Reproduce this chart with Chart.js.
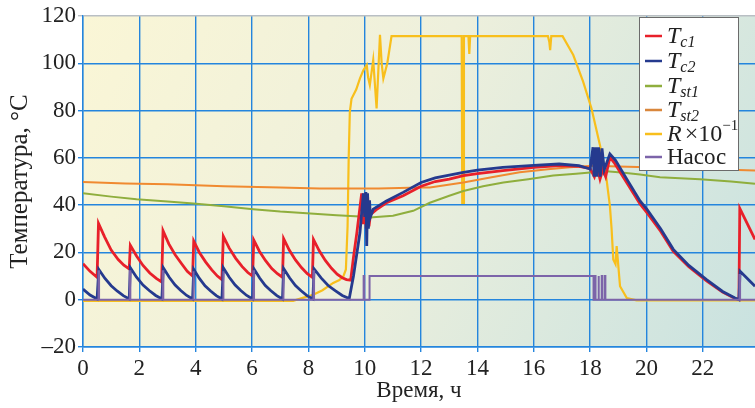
<!DOCTYPE html>
<html>
<head>
<meta charset="utf-8">
<script src="https://cdn.jsdelivr.net/npm/chart.js@4.4.0/dist/chart.umd.min.js"></script>
<style>
  body { margin: 0; background: #fff; }
  #wrap { width: 755px; height: 408px; }
</style>
</head>
<body>
<div id="wrap"><canvas id="myChart"></canvas></div>
<script>
// ticks
const xTicks = [0, 2, 4, 6, 8, 10, 12, 14, 16, 18, 20, 22];
const yTicks = [-20, 0, 20, 40, 60, 80, 100, 120];

// series as [hour, value]
const tc1 = [
  [0, 15.2], [0.25, 12], [0.5, 9.5],
  [0.55, 32.3], [0.77, 26.5], [1.0, 21], [1.25, 17], [1.45, 14.6], [1.64, 13],
  [1.68, 23], [1.9, 18.5], [2.13, 14.5], [2.37, 11.3], [2.6, 9], [2.79, 7.5],
  [2.84, 29.2], [3.05, 23.5], [3.27, 19], [3.5, 15.2], [3.7, 12], [3.89, 10],
  [3.93, 24.8], [4.13, 20], [4.35, 16], [4.57, 12.6], [4.77, 10], [4.93, 8.5],
  [4.98, 26.8], [5.19, 21.8], [5.42, 17.5], [5.65, 14], [5.85, 11.5], [6.02, 10],
  [6.06, 25.2], [6.26, 20.5], [6.48, 16.5], [6.7, 13.2], [6.9, 11], [7.08, 9.5],
  [7.12, 25.8], [7.32, 21], [7.54, 16.8], [7.76, 13.5], [7.96, 11], [8.14, 9.5],
  [8.18, 25.5], [8.38, 20.8], [8.6, 16.6], [8.82, 13.3], [9.02, 10.8], [9.2, 9.3], [9.35, 8.5], [9.5, 8.3],
  [9.6, 18], [9.72, 28.4], [9.89, 45], [9.95, 32], [10.0, 45], [10.05, 30], [10.1, 44], [10.15, 31], [10.2, 36],
  [10.4, 38], [10.77, 41], [11.36, 44], [12.0, 48], [12.5, 50], [13.0, 51], [13.5, 52.5], [14.0, 53.3],
  [14.9, 54.6], [16.0, 56], [16.9, 56.7], [17.6, 56.4], [18.0, 55.5], [18.15, 52], [18.25, 56],
  [18.35, 51], [18.45, 55], [18.55, 52], [18.7, 60.3], [18.85, 58], [19.3, 49.5], [19.77, 40.5],
  [20.0, 37], [20.5, 29], [20.95, 20.5], [21.5, 14], [22.13, 8], [22.7, 3.2], [23.14, 0.5],
  [23.28, 0], [23.31, 38.6], [23.85, 25.5]
];
const tc2 = [
  [0, 4.5], [0.25, 2], [0.5, 0.3],
  [0.56, 12.8], [0.78, 9], [1.0, 5.9], [1.21, 3.7], [1.43, 1.7], [1.64, 0.3],
  [1.68, 13.5], [1.9, 9.5], [2.13, 6.2], [2.35, 3.9], [2.58, 1.8], [2.8, 0.3],
  [2.85, 13.5], [3.06, 9.5], [3.27, 6.2], [3.47, 3.9], [3.68, 1.8], [3.89, 0.3],
  [3.93, 12.8], [4.13, 9], [4.33, 5.9], [4.53, 3.7], [4.73, 1.7], [4.93, 0.3],
  [4.98, 13.5], [5.19, 9.5], [5.4, 6.2], [5.6, 3.9], [5.81, 1.8], [6.02, 0.3],
  [6.07, 13], [6.27, 9.2], [6.47, 6], [6.67, 3.8], [6.88, 1.7], [7.08, 0.3],
  [7.12, 13.2], [7.33, 9.3], [7.54, 6], [7.74, 3.8], [7.95, 1.7], [8.16, 0.3],
  [8.2, 13], [8.45, 9.2], [8.7, 6], [8.95, 3.8], [9.2, 1.8], [9.45, 0.5],
  [9.6, 10], [9.83, 28.4], [9.95, 45], [10.0, 35], [10.04, 45.5], [10.07, 22.7], [10.1, 45],
  [10.13, 30], [10.17, 42], [10.2, 35],
  [10.3, 38.3], [10.77, 41.8], [11.36, 45.4], [12.0, 49.6], [12.5, 51.5], [13.0, 52.7], [13.5, 53.9],
  [14.0, 54.8], [14.9, 56], [16.0, 56.8], [16.9, 57.4], [17.6, 56.7], [18.0, 55.3],
  [18.1, 64.5], [18.14, 52], [18.2, 64.5], [18.24, 52], [18.3, 64.5], [18.36, 52], [18.42, 64],
  [18.5, 55], [18.7, 61.7], [18.9, 59], [19.3, 51], [19.77, 41.8], [20.01, 38.3], [20.5, 30],
  [20.95, 21.3], [21.5, 14.5], [22.13, 8.5], [22.7, 3.5], [23.14, 0.7], [23.28, 0],
  [23.32, 12], [23.85, 5.7]
];
const tst1 = [
  [0, 45], [1.0, 43.6], [1.9, 42.5], [3.0, 41.5], [3.92, 40.7], [5.0, 39.5], [6.04, 38.3],
  [7.0, 37.3], [7.94, 36.6], [9.0, 35.7], [9.83, 35.2], [10.18, 34.8], [11.0, 35.5],
  [11.72, 37.6], [12.31, 41], [13.0, 44], [13.5, 46], [14.2, 48], [14.92, 49.6], [15.8, 51],
  [16.69, 52.5], [17.5, 53.3], [18.1, 53.9], [18.58, 54.3], [19.2, 53.7], [19.77, 53],
  [20.48, 51.8], [21.9, 51], [23.0, 50], [23.85, 49]
];
const tst2 = [
  [0, 49.8], [1.5, 49.2], [3.0, 48.8], [5.0, 48], [7.0, 47.5], [8.4, 47], [10.5, 47],
  [11.96, 47.5], [12.31, 47.5], [13.5, 49.6], [14.5, 51.8], [15.5, 53.9], [16.5, 55.2],
  [17.28, 56], [18.1, 56.7], [19.0, 56.3], [20.0, 56], [21.5, 55.5], [23.85, 54.6]
];
const rScaled = [
  [0, -0.5], [7.46, -0.5], [7.8, 0.8], [8.17, 2.1], [8.5, 4], [8.88, 7.1], [9.1, 8.3], [9.24, 9.9],
  [9.33, 12.8], [9.39, 31], [9.43, 60], [9.47, 79.4], [9.53, 85], [9.7, 89], [9.83, 93.6],
  [9.95, 97], [10.07, 99.3], [10.12, 94], [10.18, 90.8], [10.3, 101.4], [10.42, 80.9],
  [10.54, 112], [10.6, 100], [10.66, 93.6], [10.8, 100], [10.95, 111.5], [13.44, 111.5],
  [13.46, 41], [13.5, 41], [13.52, 111.5], [13.68, 111.5], [13.71, 104], [13.74, 111.5],
  [16.5, 111.5], [16.55, 109], [16.58, 105.6], [16.62, 111.5], [17.02, 111.5], [17.4, 103.5],
  [17.75, 92.2], [18.05, 80.8], [18.35, 65.2], [18.58, 51], [18.7, 39.7], [18.76, 30],
  [18.82, 17], [18.9, 15], [18.94, 22.7], [18.99, 15.6], [19.06, 5.7], [19.3, 0.7],
  [19.65, -0.3], [23.85, -0.3]
];
const pump = [
  [0, 0], [0.55, 0], [0.55, 12], [0.57, 12], [0.57, 0],
  [1.66, 0], [1.66, 12], [1.68, 12], [1.68, 0],
  [2.83, 0], [2.83, 12], [2.85, 12], [2.85, 0],
  [3.91, 0], [3.91, 12], [3.93, 12], [3.93, 0],
  [4.97, 0], [4.97, 12], [4.99, 12], [4.99, 0],
  [6.05, 0], [6.05, 12], [6.07, 12], [6.07, 0],
  [7.1, 0], [7.1, 12], [7.12, 12], [7.12, 0],
  [8.18, 0], [8.18, 12], [8.2, 12], [8.2, 0],
  [9.96, 0], [9.96, 10], [9.98, 10], [9.98, 0],
  [10.17, 0], [10.17, 10], [18.12, 10], [18.12, 0],
  [18.17, 0], [18.17, 10], [18.19, 10], [18.19, 0],
  [18.29, 0], [18.29, 10], [18.31, 10], [18.31, 0],
  [18.41, 0], [18.41, 10], [18.43, 10], [18.43, 0],
  [18.52, 0], [18.52, 10], [18.54, 10], [18.54, 0],
  [23.3, 0], [23.3, 10.5], [23.32, 10.5], [23.32, 0], [23.85, 0]
];

const toXY = arr => arr.map(p => ({ x: p[0], y: p[1] }));
const serif = "'Liberation Serif', 'DejaVu Serif', serif";
const gridBlue = '#2485dd';
Chart.defaults.font.family = serif;

const bgPlugin = {
  id: 'bg',
  beforeDraw(chart) {
    const { ctx, chartArea: a } = chart;
    ctx.save();
    ctx.fillStyle = '#fff';
    ctx.fillRect(0, 0, chart.width, chart.height);
    const g = ctx.createLinearGradient(a.left, a.top, a.right, a.bottom);
    g.addColorStop(0, '#faf6d6');
    g.addColorStop(0.45, '#eef0dc');
    g.addColorStop(1, '#c9e2e0');
    ctx.fillStyle = g;
    ctx.fillRect(a.left, a.top, a.right - a.left, a.bottom - a.top);
    ctx.restore();
  }
};

// legend with sub/superscripts
const legendRows = [
  { color: '#e8202a', parts: [['T', 'italic', 24, 0], ['c1', 'italic', 16, 6]] },
  { color: '#253a8e', parts: [['T', 'italic', 24, 0], ['c2', 'italic', 16, 6]] },
  { color: '#8fae3d', parts: [['T', 'italic', 24, 0], ['st1', 'italic', 16, 6]] },
  { color: '#d9873c', parts: [['T', 'italic', 24, 0], ['st2', 'italic', 16, 6]] },
  { color: '#f8bf1c', parts: [['R', 'italic', 24, 0], ['\u00d710', 'normal', 24, 0], ['\u22121', 'normal', 15, -9]] },
  { color: '#7c64a9', parts: [['\u041d\u0430\u0441\u043e\u0441', 'normal', 23, 0]] }
];
const legendPlugin = {
  id: 'customLegend',
  afterDraw(chart) {
    const ctx = chart.ctx;
    ctx.save();
    ctx.fillStyle = '#fff';
    ctx.fillRect(639, 17, 99, 153);
    ctx.strokeStyle = '#6b6b6b';
    ctx.lineWidth = 1;
    ctx.strokeRect(639.5, 17.5, 99, 153);
    const rowY = [36, 61, 86, 110, 134, 157];
    legendRows.forEach((row, i) => {
      const y = rowY[i];
      ctx.strokeStyle = row.color;
      ctx.lineWidth = 2.5;
      ctx.beginPath();
      ctx.moveTo(645, y);
      ctx.lineTo(662, y);
      ctx.stroke();
      let x = 667;
      ctx.fillStyle = '#222';
      ctx.textBaseline = 'middle';
      row.parts.forEach(([txt, style, size, dy], k) => {
        ctx.font = style + ' ' + size + 'px ' + serif;
        if (txt === '\u00d710') x += 3;
        ctx.fillText(txt, x, y + dy + 1);
        x += ctx.measureText(txt).width;
      });
    });
    ctx.restore();
  }
};

const ctx = document.getElementById('myChart').getContext('2d');
new Chart(ctx, {
  type: 'line',
  data: {
    datasets: [
      { label: 'Tc1', data: toXY(tc1), borderColor: '#e8202a', borderWidth: 2.8, order: 3 },
      { label: 'Tc2', data: toXY(tc2), borderColor: '#253a8e', borderWidth: 2.8, order: 2 },
      { label: 'Tst1', data: toXY(tst1), borderColor: '#8fae3d', borderWidth: 2, order: 5 },
      { label: 'Tst2', data: toXY(tst2), borderColor: '#f08a30', borderWidth: 2, order: 4 },
      { label: 'R', data: toXY(rScaled), borderColor: '#f8bf1c', borderWidth: 2.2, order: 6 },
      { label: 'Насос', data: toXY(pump), borderColor: '#7c64a9', borderWidth: 2, order: 1 }
    ]
  },
  options: {
    responsive: true,
    maintainAspectRatio: false,
    animation: false,
    layout: { padding: { top: 16, right: 0, left: 0, bottom: 0 } },
    elements: { point: { radius: 0 }, line: { tension: 0, fill: false } },
    plugins: { legend: { display: false }, tooltip: { enabled: false } },
    scales: {
      x: {
        type: 'linear',
        min: 0,
        max: 23.85,
        afterBuildTicks: s => { s.ticks = xTicks.map(v => ({ value: v })); },
        afterFit: s => { s.height = 61; },
        grid: { color: gridBlue, lineWidth: 1.4, tickLength: 5 },
        border: { color: gridBlue, width: 1.4 },
        ticks: { color: '#222', padding: 3, maxRotation: 0, font: { family: serif, size: 23 } },
        title: { display: true, text: 'Время, ч', color: '#222', padding: { top: 0, bottom: 3 }, font: { family: serif, size: 23 } }
      },
      y: {
        min: -20,
        max: 120,
        afterBuildTicks: s => { s.ticks = yTicks.map(v => ({ value: v })); },
        afterFit: s => { s.width = 83; },
        grid: {
          color: c => (c.tick && c.tick.value === 120 ? '#b9bfc4' : gridBlue),
          lineWidth: 1.4,
          tickLength: 5
        },
        border: { color: gridBlue, width: 1.4 },
        ticks: {
          color: '#222',
          padding: 2,
          font: { family: serif, size: 23 },
          callback: v => (v < 0 ? '\u2013' + Math.abs(v) : String(v))
        },
        title: { display: true, text: 'Температура, °C', color: '#222', padding: { top: 5, bottom: 0 }, font: { family: serif, size: 25 } }
      }
    }
  },
  plugins: [bgPlugin, legendPlugin]
});
</script>
</body>
</html>
